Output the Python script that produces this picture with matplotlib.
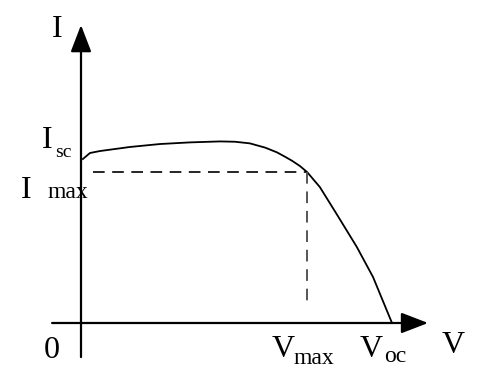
import matplotlib.pyplot as plt

# I-V curve of a solar cell (normalised units: V_oc = 1, start of curve ~ I_sc)
voltage = [0.006, 0.029, 0.061, 0.158, 0.254, 0.350, 0.447, 0.495, 0.543, 0.592,
           0.630, 0.656, 0.678, 0.704, 0.727, 0.768, 0.826, 0.887, 0.939, 1.000]
current = [1.006, 1.043, 1.055, 1.080, 1.098, 1.108, 1.114, 1.112, 1.102, 1.076,
           1.047, 1.020, 0.996, 0.963, 0.926, 0.834, 0.656, 0.466, 0.282, 0.000]

v_max = 0.727
i_max = 0.926

W, H = 487, 368

plt.rcParams['font.family'] = ['Liberation Serif', 'DejaVu Serif']

fig = plt.figure(figsize=(W / 100, H / 100), dpi=100)
ax = fig.add_axes([0, 0, 1, 1])
ax.set_xlim(-81 / 311, (W - 81) / 311)
ax.set_ylim((323 - H) / 163, 323 / 163)
ax.axis('off')

# axes with arrow heads
arrow = dict(arrowstyle='-|>,head_length=0.83,head_width=0.32', mutation_scale=20,
             lw=1.6, color='black', shrinkA=0, shrinkB=0)
ax.annotate('', xy=(0, 1.828), xytext=(0, -0.209), arrowprops=arrow)
ax.annotate('', xy=(1.116, 0), xytext=(-0.093, 0), arrowprops=arrow)

# the curve
ax.plot(voltage, current, color='black', lw=1.3)

# maximum power point guides
ax.plot([0.039, v_max], [i_max, i_max], color='black', lw=1.2, linestyle=(0, (7, 4.5)))
ax.plot([v_max, v_max], [i_max, 0.11], color='#555555', lw=1.4, linestyle=(0, (6, 4)))


def label(x, y, s, size=23, **kw):
    # x, y in pixels from the top-left corner, y = baseline
    fig.text(x / W, 1 - y / H, s, fontsize=size, va='baseline', ha='left', **kw)


label(52, 37, 'I')
label(42, 148, 'I')
label(55, 157, 'sc', size=14)
label(21, 198, 'I')
label(47, 198, 'max', size=17)
label(44, 358, '0')
label(272, 357, 'V')
label(294, 364, 'max', size=17)
label(360, 357, 'V')
label(384, 362, 'oc', size=17)
label(442, 353, 'V')

fig.savefig('out.png', dpi=100)
